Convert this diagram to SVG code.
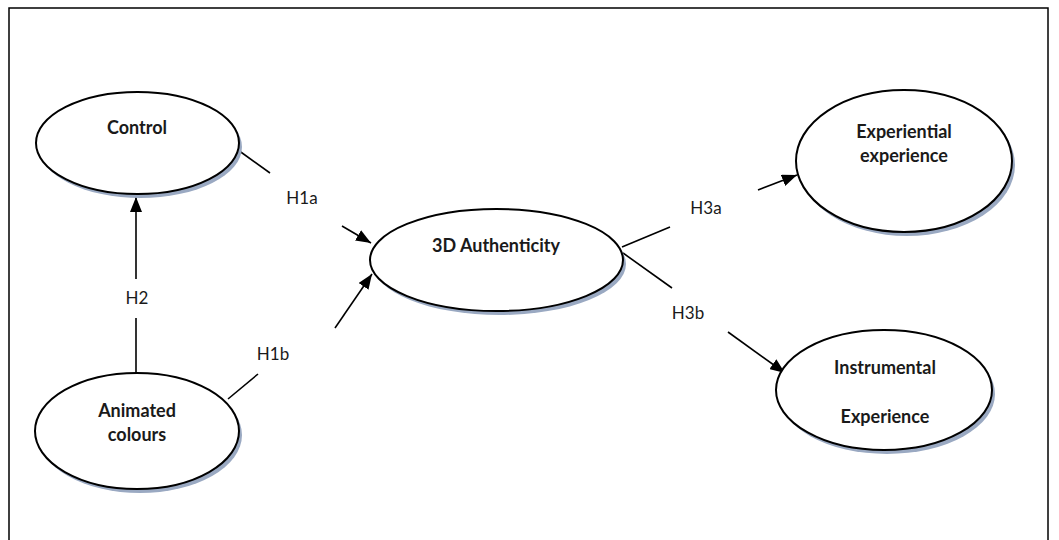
<svg xmlns="http://www.w3.org/2000/svg" width="1059" height="540" viewBox="0 0 1059 540">
<style>
.shadow{fill:#9aa9c2;stroke:none}
.node{fill:#ffffff;stroke:#000000;stroke-width:2}
.lbl{font-family:Lato,"Liberation Sans",sans-serif;font-weight:bold;font-size:18px;fill:#1a1a1a;text-anchor:middle}
.hyp{font-family:Lato,"Liberation Sans",sans-serif;font-size:17px;fill:#1a1a1a;text-anchor:middle}
.edge{stroke:#000000;stroke-width:1.6;fill:none}
</style>
<defs>
<marker id="arr" markerUnits="userSpaceOnUse" markerWidth="16" markerHeight="12" refX="15" refY="6" orient="auto">
<path d="M0,0 L15,6 L0,12 Z" fill="#000000"/>
</marker>
</defs>
<rect x="9" y="8" width="1039" height="545" fill="#ffffff" stroke="#000000" stroke-width="1.5"/>
<g id="connectors">
<line class="edge" x1="238" y1="150" x2="270" y2="173"/>
<line class="edge" x1="342" y1="226" x2="371" y2="243" marker-end="url(#arr)"/>
<line class="edge" x1="228" y1="399" x2="258" y2="374"/>
<line class="edge" x1="335" y1="328" x2="372" y2="274" marker-end="url(#arr)"/>
<line class="edge" x1="136" y1="373" x2="136" y2="318"/>
<line class="edge" x1="136" y1="279" x2="136" y2="197" marker-end="url(#arr)"/>
<line class="edge" x1="622" y1="247" x2="670" y2="227"/>
<line class="edge" x1="758" y1="190" x2="797" y2="175" marker-end="url(#arr)"/>
<line class="edge" x1="623" y1="253" x2="672" y2="288"/>
<line class="edge" x1="728" y1="332" x2="785" y2="373" marker-end="url(#arr)"/>
<text class="hyp" x="302" y="204">H1a</text>
<text class="hyp" x="273" y="360">H1b</text>
<text class="hyp" x="137" y="304">H2</text>
<text class="hyp" x="706" y="214">H3a</text>
<text class="hyp" x="688" y="319">H3b</text>
</g>
<g id="control">
<ellipse class="shadow" cx="140.5" cy="147" rx="101.5" ry="51"/>
<ellipse class="node" cx="137.5" cy="143" rx="101.5" ry="51"/>
<text class="lbl" x="137" y="134">Control</text>
</g>
<g id="animated-colours">
<ellipse class="shadow" cx="140" cy="435" rx="102" ry="58"/>
<ellipse class="node" cx="137" cy="431" rx="102" ry="58"/>
<text class="lbl" x="137" y="417">Animated</text>
<text class="lbl" x="137" y="441">colours</text>
</g>
<g id="authenticity">
<ellipse class="shadow" cx="499.5" cy="264" rx="126.5" ry="51"/>
<ellipse class="node" cx="496.5" cy="260" rx="126.5" ry="51"/>
<text class="lbl" x="496" y="252">3D Authenticity</text>
</g>
<g id="experiential">
<ellipse class="shadow" cx="907" cy="165" rx="108" ry="71"/>
<ellipse class="node" cx="904" cy="161" rx="108" ry="71"/>
<text class="lbl" x="904" y="138">Experiential</text>
<text class="lbl" x="904" y="162">experience</text>
</g>
<g id="instrumental">
<ellipse class="shadow" cx="887" cy="394" rx="108" ry="60"/>
<ellipse class="node" cx="884" cy="390" rx="108" ry="60"/>
<text class="lbl" x="885" y="374">Instrumental</text>
<text class="lbl" x="885" y="423">Experience</text>
</g>
</svg>
